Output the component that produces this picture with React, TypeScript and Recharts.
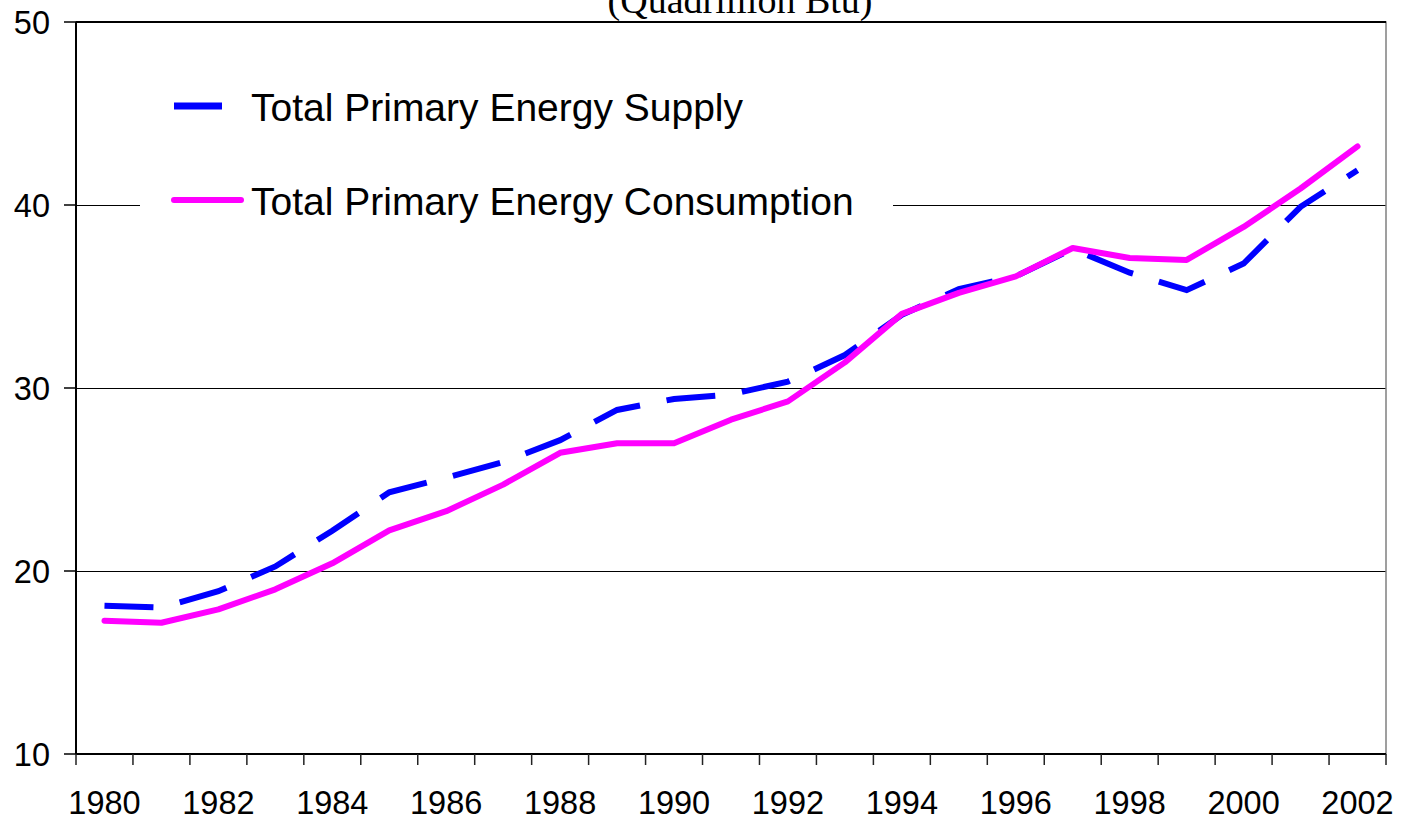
import React from 'react';
import {
  LineChart,
  Line,
  XAxis,
  YAxis,
  CartesianGrid,
  Legend,
  ReferenceLine,
  ReferenceArea,
  Customized,
} from 'recharts';

const years = [
  '1980', '1981', '1982', '1983', '1984', '1985', '1986', '1987', '1988', '1989', '1990', '1991',
  '1992', '1993', '1994', '1995', '1996', '1997', '1998', '1999', '2000', '2001', '2002',
];
const supplyValues = [
  18.1, 18.0, 18.9, 20.25, 22.2, 24.3, 25.1, 25.95, 27.15, 28.8, 29.4, 29.65,
  30.35, 31.8, 34.0, 35.4, 36.1, 37.6, 36.3, 35.35, 36.8, 39.9, 41.9,
];
const consumptionValues = [
  17.28, 17.17, 17.9, 19.0, 20.42, 22.22, 23.27, 24.72, 26.46, 26.98, 26.98, 28.27,
  29.27, 31.4, 34.05, 35.2, 36.1, 37.65, 37.1, 37.0, 38.8, 40.9, 43.2,
];
const xTickLabels = ['1980', '1982', '1984', '1986', '1988', '1990', '1992', '1994', '1996', '1998', '2000', '2002'];
const yTicks = [10, 20, 30, 40, 50];
const seriesOrder = ['supply', 'consumption'];
const supplyName = 'Total Primary Energy Supply';
const consumptionName = 'Total Primary Energy Consumption';
const titleText = '(Quadrillion Btu)';

const data = years.map((year, i) => ({
  year,
  supply: supplyValues[i],
  consumption: consumptionValues[i],
}));

const W = 1401;
const H = 821;
const MARGIN = { top: 22, right: 15, bottom: 0, left: 0 };
const Y_AXIS_W = 76;
const X_AXIS_H = 67;
const SANS = '"Liberation Sans", Arial, sans-serif';
const SERIF = '"Liberation Serif", "Times New Roman", serif';

function XTick(props: any) {
  const { x, y, payload, index, visibleTicksCount } = props;
  const n = visibleTicksCount || years.length;
  const plotW = W - MARGIN.left - MARGIN.right - Y_AXIS_W;
  const half = plotW / n / 2;
  const label = String(payload.value);
  const show = xTickLabels.includes(label);
  return (
    <g>
      <line x1={x - half} y1={y} x2={x - half} y2={y + 11} stroke="#222" strokeWidth={1.5} />
      {index === n - 1 && (
        <line x1={x + half} y1={y} x2={x + half} y2={y + 11} stroke="#222" strokeWidth={1.5} />
      )}
      {show && (
        <text x={x} y={y + 60} textAnchor="middle" fontSize={32.5} fontFamily={SANS} fill="#000">
          {label}
        </text>
      )}
    </g>
  );
}

function renderLegend(props: any) {
  const payload = [...(props.payload || [])].sort(
    (a: any, b: any) => seriesOrder.indexOf(a.dataKey) - seriesOrder.indexOf(b.dataKey),
  );
  return (
    <div style={{ width: 753, height: 185, background: '#fff' }}>
      <svg width={753} height={185}>
        {payload.map((p: any, i: number) => {
          const cy = 46 + i * 94;
          const dashed = p.dataKey === 'supply';
          return (
            <g key={String(p.value)}>
              {dashed ? (
                <line x1={34} y1={cy} x2={82} y2={cy} stroke={p.color} strokeWidth={7} />
              ) : (
                <line x1={34} y1={cy} x2={101} y2={cy} stroke={p.color} strokeWidth={6} strokeLinecap="round" />
              )}
              <text x={111} y={cy + 15} fontSize={39} fontFamily={SANS} fill="#000">
                {p.value}
              </text>
            </g>
          );
        })}
      </svg>
    </div>
  );
}

export default function App() {
  return (
    <div style={{ position: 'absolute', left: 0, top: 0, width: W, height: H, background: '#fff' }}>
      <LineChart width={W} height={H} data={data} margin={MARGIN}>
        <CartesianGrid vertical={false} stroke="#000" strokeWidth={1} shapeRendering="crispEdges" />
        <ReferenceArea y1={10} y2={50} fill="none" stroke="#808080" strokeWidth={1.5} ifOverflow="visible" />
        <ReferenceLine y={50} stroke="#000" strokeWidth={2} />
        <XAxis
          dataKey="year"
          scale="band"
          interval={0}
          height={X_AXIS_H}
          tickSize={0}
          tickMargin={0}
          tickLine={false}
          axisLine={{ stroke: '#000', strokeWidth: 2 }}
          tick={(p: any) => <XTick {...p} />}
        />
        <YAxis
          domain={[10, 50]}
          ticks={yTicks}
          width={Y_AXIS_W}
          tickSize={12}
          tickMargin={14}
          interval={0}
          allowDataOverflow
          axisLine={{ stroke: '#000', strokeWidth: 2 }}
          tickLine={{ stroke: '#000', strokeWidth: 1.5 }}
          tick={{ fontSize: 32.5, fontFamily: SANS, fill: '#000' }}
        />
        <Line
          type="linear"
          dataKey="supply"
          name={supplyName}
          stroke="#0000FF"
          strokeWidth={6}
          strokeDasharray="49 27"
          dot={false}
          activeDot={false}
          isAnimationActive={false}
        />
        <Line
          type="linear"
          dataKey="consumption"
          name={consumptionName}
          stroke="#FF00FF"
          strokeWidth={6}
          strokeLinecap="round"
          strokeLinejoin="round"
          dot={false}
          activeDot={false}
          isAnimationActive={false}
        />
        <Legend
          layout="vertical"
          align="center"
          verticalAlign="middle"
          content={renderLegend}
          wrapperStyle={{ left: 140, top: 60, width: 753, height: 185 }}
        />
        <Customized
          component={() => (
            <text x={740} y={13} textAnchor="middle" fontSize={38} fontFamily={SERIF} fill="#000">
              {titleText}
            </text>
          )}
        />
      </LineChart>
    </div>
  );
}
